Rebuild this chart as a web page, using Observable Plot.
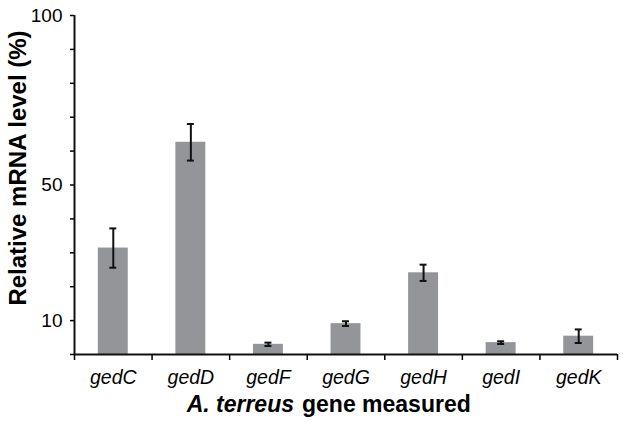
<!DOCTYPE html>
<html>
<head>
<meta charset="utf-8">
<script src="https://cdn.jsdelivr.net/npm/d3@7"></script>
<script src="https://cdn.jsdelivr.net/npm/@observablehq/plot@0.6"></script>
<style>
  html, body { margin: 0; padding: 0; background: #fff; }
  svg { font-family: Arial, "Liberation Sans", sans-serif; }
</style>
</head>
<body>
<div id="chart"></div>
<script>
const genes = ["gedC", "gedD", "gedF", "gedG", "gedH", "gedI", "gedK"];
const values = [31.4, 62.6, 3.0, 9.1, 24.1, 3.5, 5.4];
const errors = [5.8, 5.4, 0.5, 0.7, 2.4, 0.4, 2.0];
const yTicks = [0, 10, 20, 30, 40, 50, 60, 70, 80, 90, 100];
const yLabeled = [10, 50, 100];

const table = genes.map((g, i) => ({gene: g, i, value: values[i], err: errors[i]}));
const boundaries = d3.range(0, genes.length + 1);
const centers = genes.map((g, i) => i + 0.5);

const plot = Plot.plot({
  width: 637,
  height: 423,
  marginLeft: 74,
  marginRight: 20,
  marginTop: 15,
  marginBottom: 69,
  style: {fontFamily: 'Arial, "Liberation Sans", sans-serif', color: "#000", background: "#fff"},
  x: {domain: [0, genes.length], axis: null},
  y: {domain: [0, 100], axis: null},
  marks: [
    Plot.rectY(table, {x1: d => d.i + 0.307, x2: d => d.i + 0.693, y: "value", fill: "#949599"}),
    Plot.ruleX(table, {x: d => d.i + 0.5, y1: d => d.value - d.err, y2: d => d.value + d.err, stroke: "#111", strokeWidth: 2}),
    Plot.ruleY(table, {y: d => d.value + d.err, x1: d => d.i + 0.455, x2: d => d.i + 0.545, stroke: "#111", strokeWidth: 2}),
    Plot.ruleY(table, {y: d => d.value - d.err, x1: d => d.i + 0.455, x2: d => d.i + 0.545, stroke: "#111", strokeWidth: 2}),
    Plot.axisY({ticks: yTicks, tickSize: 4, tickPadding: 8, strokeWidth: 1.5, fontSize: 19,
      tickFormat: d => yLabeled.includes(d) ? String(d) : "", label: null}),
    Plot.axisX({ticks: boundaries, tickSize: 6, tickFormat: () => "", strokeWidth: 1.5, label: null}),
    Plot.axisX({ticks: centers, tickSize: 0, tickPadding: 16, fontSize: 19.5, fontStyle: "italic",
      tickFormat: d => genes[Math.round(d - 0.5)], label: null}),
    Plot.ruleX([0], {stroke: "#111", strokeWidth: 2}),
    Plot.ruleY([0], {stroke: "#111", strokeWidth: 2}),
    Plot.text(["Relative mRNA level (%)"], {frameAnchor: "left", textAnchor: "middle", lineAnchor: "middle",
      rotate: -90, dx: -56, dy: -17, fontWeight: "bold", fontSize: 24, fill: "#000"}),
    Plot.text(["A. terreus"], {frameAnchor: "bottom", textAnchor: "end", lineAnchor: "bottom", dx: -52, dy: 57,
      fontWeight: "bold", fontStyle: "italic", fontSize: 23, fill: "#000"}),
    Plot.text(["gene measured"], {frameAnchor: "bottom", textAnchor: "start", lineAnchor: "bottom", dx: -44, dy: 57,
      fontWeight: "bold", fontSize: 23, fill: "#000"})
  ]
});
document.getElementById("chart").appendChild(plot);
</script>
</body>
</html>
